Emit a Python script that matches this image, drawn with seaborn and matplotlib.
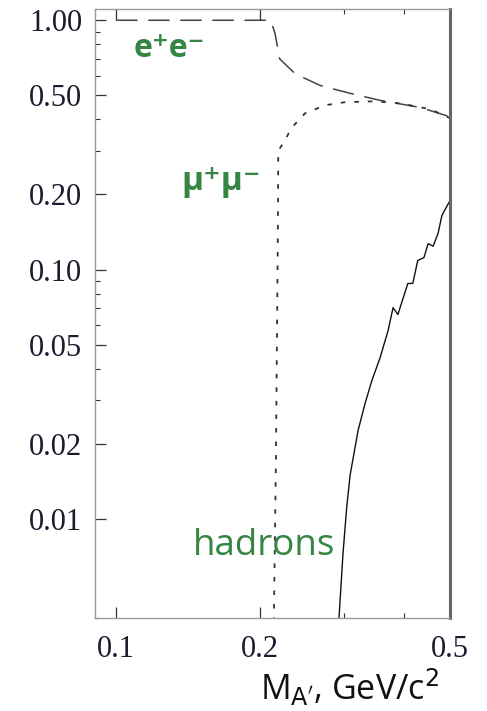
import numpy as np
import matplotlib
matplotlib.use("Agg")
import matplotlib.pyplot as plt
import seaborn as sns
from matplotlib.ticker import FixedLocator, NullFormatter

# ------------------------------
# Branching ratios
# ------------------------------
ee_mass = [0.100, 0.2105, 0.215, 0.220, 0.237, 0.267, 0.309, 0.357, 0.433, 0.500]
ee_br = [1.00, 1.00, 0.89, 0.70, 0.61, 0.548, 0.509, 0.477, 0.447, 0.410]

mumu_mass = [0.2135, 0.2145, 0.216, 0.218, 0.2185, 0.2235, 0.2335, 0.2485,
             0.2737, 0.301, 0.348, 0.393, 0.454, 0.500]
mumu_br = [0.003, 0.006, 0.0166, 0.131, 0.30, 0.32, 0.372, 0.423,
           0.456, 0.469, 0.473, 0.464, 0.440, 0.405]

had_mass = [0.2928, 0.2985, 0.304, 0.309, 0.321, 0.332, 0.343, 0.357, 0.371,
            0.380, 0.389, 0.408, 0.418, 0.428, 0.441, 0.450, 0.461, 0.472,
            0.481, 0.500]
had_br = [0.004, 0.00724, 0.0112, 0.0150, 0.0226, 0.029, 0.0358, 0.0443, 0.0569,
          0.0703, 0.066, 0.0879, 0.088, 0.1087, 0.1117, 0.127, 0.124, 0.1395,
          0.165, 0.189]

y_major = [0.01, 0.02, 0.05, 0.10, 0.20, 0.50, 1.00]
y_labels = ["0.01", "0.02", "0.05", "0.10", "0.20", "0.50", "1.00"]
y_minor = [0.03, 0.04, 0.06, 0.07, 0.08, 0.09, 0.3, 0.4, 0.6, 0.7, 0.8, 0.9]
x_major = [0.1, 0.2, 0.5]
x_labels = ["0.1", "0.2", "0.5"]
x_minor = [0.3, 0.4]

# ------------------------------
# Plot
# ------------------------------
sns.set_style("white")
plt.rcParams["font.family"] = ["Liberation Serif", "DejaVu Serif"]
plt.rcParams["mathtext.fontset"] = "dejavusans"

fig = plt.figure(figsize=(4.87, 7.11), dpi=100)
ax = fig.add_axes([0.195, 0.1308, 0.729, 0.8562])

sns.lineplot(x=ee_mass, y=ee_br, ax=ax, color="#444444", lw=1.1,
             linestyle=(0, (14, 7)), estimator=None, sort=False)
sns.lineplot(x=mumu_mass, y=mumu_br, ax=ax, color="#333333", lw=1.3,
             linestyle=(0, (2.5, 5)), estimator=None, sort=False)
sns.lineplot(x=had_mass, y=had_br, ax=ax, color="#111111", lw=1.0,
             estimator=None, sort=False)

ax.set_xscale("log")
ax.set_yscale("log")
ax.set_xlim(0.0903, 0.5)
ax.set_ylim(0.0040, 1.107)

ax.xaxis.set_major_locator(FixedLocator(x_major))
ax.xaxis.set_minor_locator(FixedLocator(x_minor))
ax.set_xticklabels(x_labels)
ax.xaxis.set_minor_formatter(NullFormatter())
ax.yaxis.set_major_locator(FixedLocator(y_major))
ax.yaxis.set_minor_locator(FixedLocator(y_minor))
ax.set_yticklabels(y_labels)
ax.yaxis.set_minor_formatter(NullFormatter())

ax.tick_params(which="both", direction="in", color="#333333",
               labelcolor="#1c1c30", labelsize=22)
ax.tick_params(axis="x", which="both", top=True, bottom=True, pad=12)
ax.tick_params(axis="y", which="both", left=True, right=False, pad=9)
ax.tick_params(which="major", length=8, width=0.9)
ax.tick_params(which="minor", length=3.5, width=0.8)

for side in ["left", "top", "bottom"]:
    ax.spines[side].set_color("#999999")
    ax.spines[side].set_linewidth(1.0)
ax.spines["right"].set_color("#666666")
ax.spines["right"].set_linewidth(2.2)

ax.set_xlabel(r"M$_{\mathrm{A'}}$, GeV/c$^2$", fontsize=24.5, color="#111111",
              family=["Open Sans", "DejaVu Sans"])
ax.xaxis.set_label_coords(0.718, -0.080)

green = "#358543"
label_font = ["Open Sans", "DejaVu Sans"]
ax.text(0.109, 0.77, "e⁺e⁻", color=green, fontsize=23, fontweight="bold",
        family=label_font, ha="left", va="center")
ax.text(0.137, 0.225, "μ⁺μ⁻", color=green, fontsize=24, fontweight="bold",
        family=label_font, ha="left", va="center")
ax.text(0.145, 0.0078, "hadrons", color=green, fontsize=26.5,
        family=label_font, ha="left", va="center")

fig.savefig("out.png", dpi=100)
